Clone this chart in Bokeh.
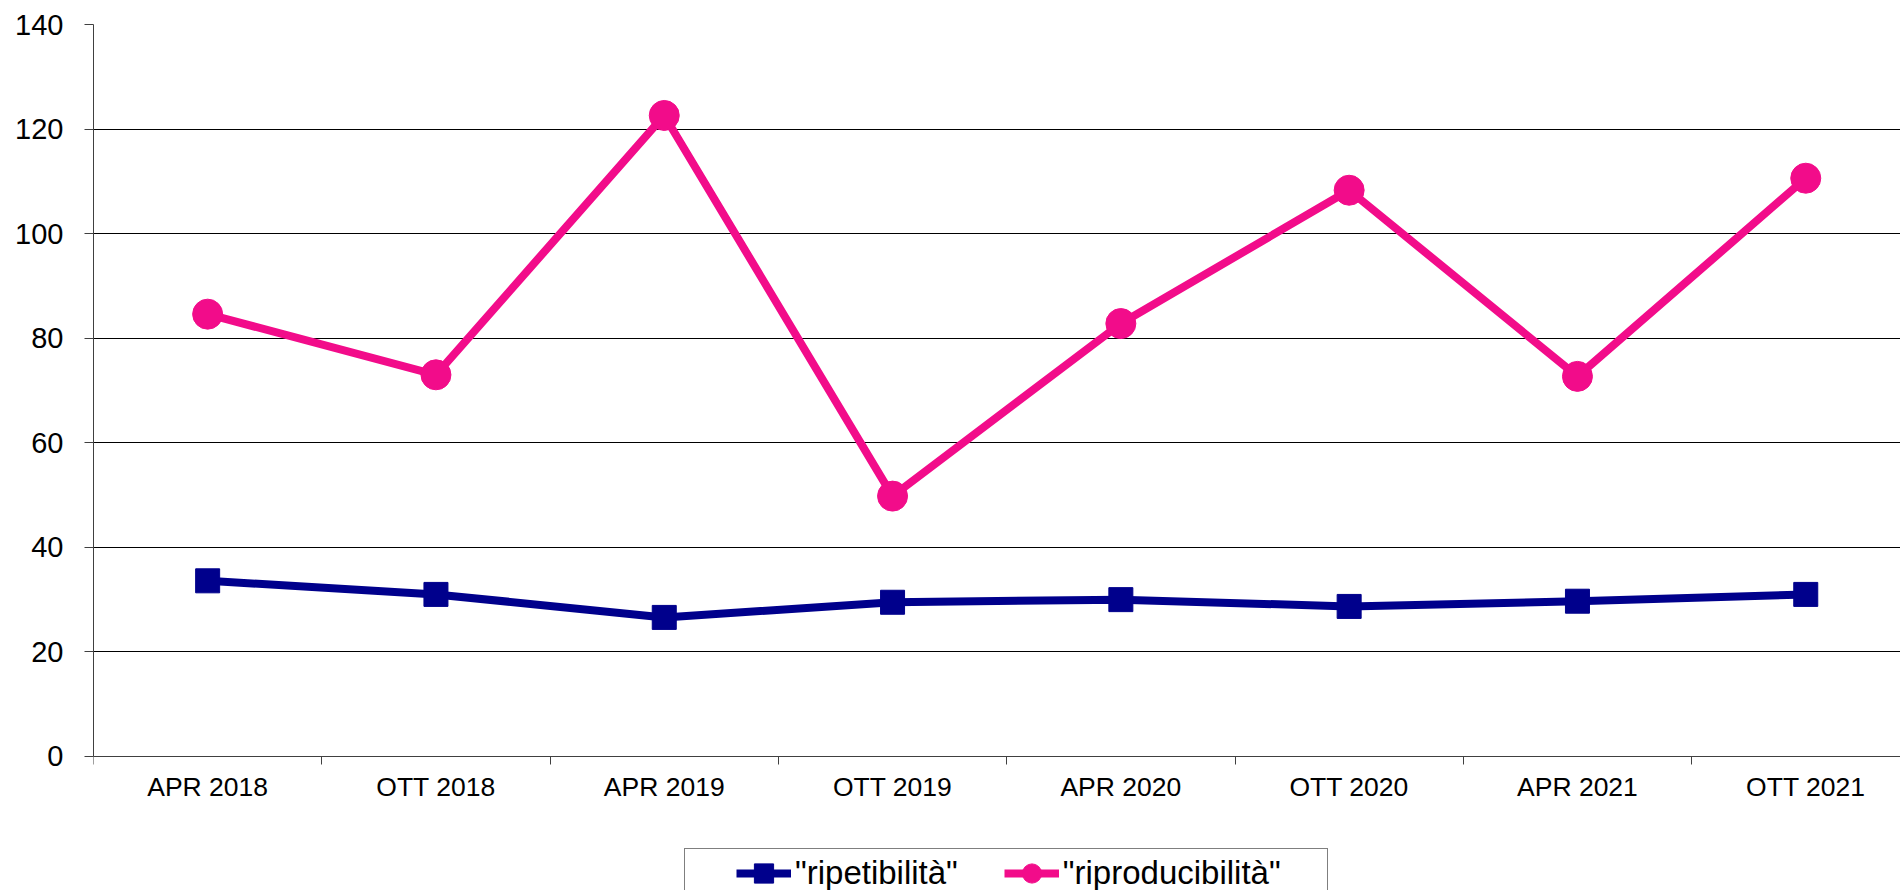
from bokeh.plotting import figure
from bokeh.models import Range1d, FixedTicker, Legend, LegendItem
from bokeh.embed import file_html
from bokeh.resources import INLINE

# ---- data ----
categories = ["APR 2018", "OTT 2018", "APR 2019", "OTT 2019",
              "APR 2020", "OTT 2020", "APR 2021", "OTT 2021"]
ripetibilita = [33.6, 31.0, 26.6, 29.5, 30.0, 28.7, 29.7, 31.0]
riproducibilita = [84.6, 73.0, 122.6, 49.8, 82.8, 108.3, 72.7, 110.6]
y_ticks = [0, 20, 40, 60, 80, 100, 120, 140]
series_names = ['"ripetibilità"', '"riproducibilità"']

BLUE = "#00008C"
PINK = "#F20C8A"
FONT = "Liberation Sans"

xs = list(range(len(categories)))

# frame runs from the top margin to the bottom of the canvas; value 0 sits
# 134 px above the bottom so the category labels and legend fit underneath
p = figure(width=1900, height=890, output_backend="svg", toolbar_location=None,
           title=None,
           x_range=Range1d(-0.5, 7.415), y_range=Range1d(-25.63, 140),
           min_border_left=93, min_border_right=0, min_border_top=24,
           min_border_bottom=0)
p.outline_line_color = None
p.background_fill_color = "white"
p.border_fill_color = "white"

# grid
p.xgrid.visible = False
p.ygrid.ticker = FixedTicker(ticks=y_ticks)
p.ygrid.grid_line_color = "black"
p.ygrid.grid_line_width = 1
p.ygrid.grid_line_alpha = 1.0

# y axis
ya = p.yaxis[0]
ya.ticker = FixedTicker(ticks=y_ticks)
ya.bounds = (0, 140)
ya.axis_line_color = "#404040"
ya.major_tick_line_color = "#404040"
ya.major_tick_in = 0
ya.major_tick_out = 9
ya.minor_tick_line_color = None
ya.major_label_standoff = 21
ya.major_label_text_font = FONT
ya.major_label_text_font_size = "29px"
ya.major_label_text_color = "black"

# x axis at value 0: labels at category centres, ticks at category boundaries
xa = p.xaxis[0]
xa.fixed_location = 0
xa.ticker = FixedTicker(ticks=xs, minor_ticks=[i - 0.5 for i in range(len(categories) + 1)])
xa.major_label_overrides = {i: c for i, c in enumerate(categories)}
xa.axis_line_color = "#404040"
xa.major_tick_line_color = None
xa.major_tick_in = 0
xa.major_tick_out = 0
xa.minor_tick_line_color = "#404040"
xa.minor_tick_in = 0
xa.minor_tick_out = 8
xa.major_label_standoff = 8
xa.major_label_text_font = FONT
xa.major_label_text_font_size = "26.5px"
xa.major_label_text_color = "black"

# series
l1 = p.line(xs, ripetibilita, line_color=BLUE, line_width=8)
s1 = p.scatter(xs, ripetibilita, marker="square", size=24, fill_color=BLUE, line_color=BLUE)
l2 = p.line(xs, riproducibilita, line_color=PINK, line_width=8)
s2 = p.scatter(xs, riproducibilita, marker="circle", size=30, fill_color=PINK, line_color=PINK)

legend = Legend(items=[LegendItem(label=series_names[0], renderers=[l1, s1]),
                       LegendItem(label=series_names[1], renderers=[l2, s2])],
                orientation="horizontal", location=(591, -12),
                label_text_font=FONT, label_text_font_size="33px",
                label_text_color="black",
                glyph_width=55, glyph_height=48, label_height=36,
                label_standoff=4, spacing=46, margin=0,
                border_line_color="black", border_line_width=1,
                background_fill_color="white", background_fill_alpha=1.0)
try:
    legend.padding = dict(left=51, right=46, top=0, bottom=4)
except Exception:
    try:
        legend.padding = (2, 48)
    except Exception:
        legend.padding = 2
p.add_layout(legend)

open("out.html", "w").write(file_html(p, INLINE))
